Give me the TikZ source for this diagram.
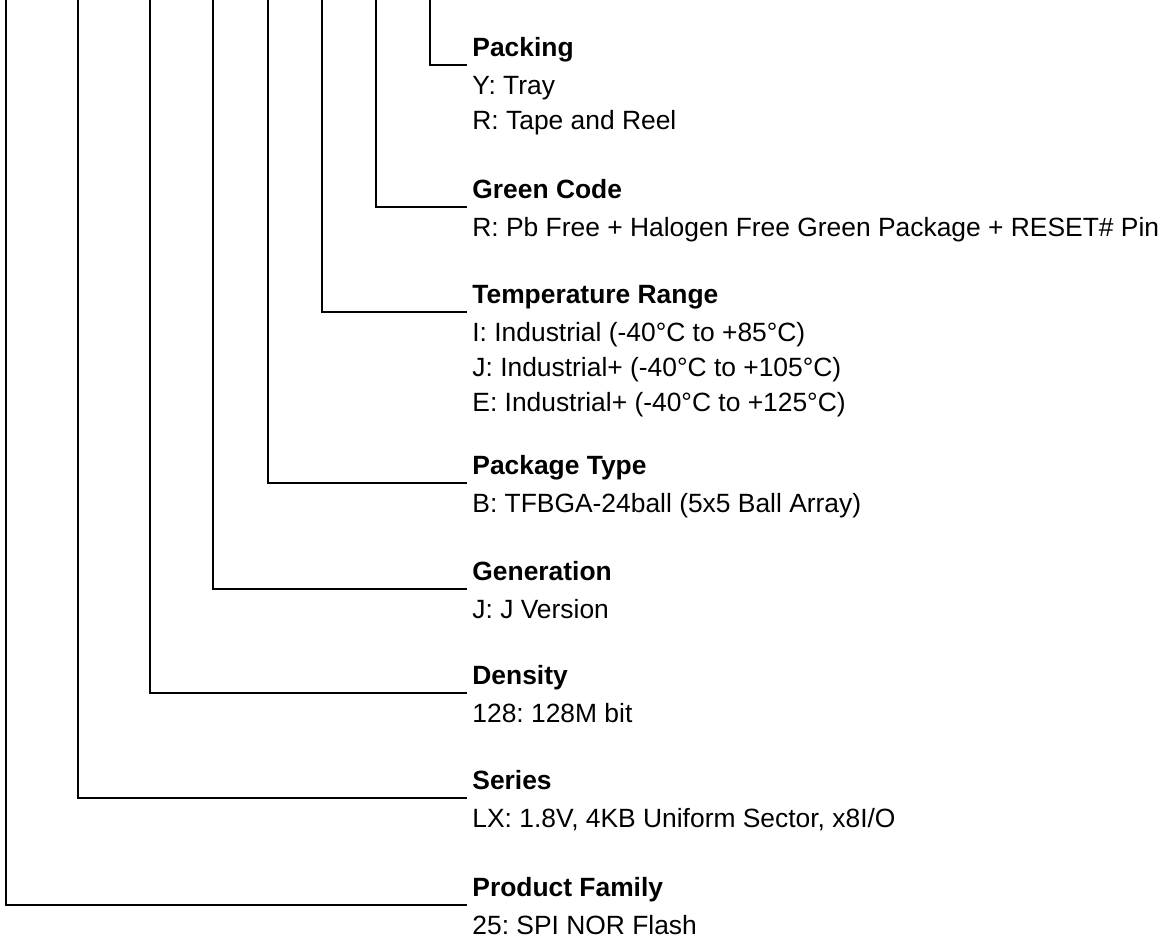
\documentclass[tikz,border=0pt]{standalone}
\usepackage{fontspec}
\setmainfont{Liberation Sans}
\usepackage{tikz}
\usetikzlibrary{positioning}
\frenchspacing
\newcommand{\codelines}[1]{\begin{tabular}[t]{@{}l@{}}#1\end{tabular}}

\begin{document}
\begin{tikzpicture}[x=0.5pt, y=-0.5pt,
  field/.style={anchor=south west, inner xsep=2.5pt, inner ysep=0pt, text depth=4pt,
                font=\fontsize{13.2}{17.5}\selectfont\bfseries},
  codes/.style={anchor=base west, inner sep=0pt,
                font=\fontsize{13.2}{17.5}\selectfont},
  lead/.style={line width=1pt}
]
  \useasboundingbox (0,0) rectangle (1166,939);

  % upper ends of the leads
  \coordinate (tfam)  at (6,0);
  \coordinate (tser)  at (78,0);
  \coordinate (tden)  at (150,0);
  \coordinate (tgen)  at (213,0);
  \coordinate (tpkg)  at (268,0);
  \coordinate (ttemp) at (322,0);
  \coordinate (tgrn)  at (376,0);
  \coordinate (tpack) at (430,0);

  \node[field] (pack) at (467,65)  {Packing};
  \node[codes] (packc) at ([xshift=2.5pt,yshift=-19pt]pack.base west) {\codelines{Y: Tray\\R: Tape and Reel}};

  \node[field] (grn) at (467,207)  {Green Code};
  \node[codes] (grnc) at ([xshift=2.5pt,yshift=-19pt]grn.base west) {\codelines{R: Pb Free + Halogen Free Green Package + RESET\# Pin}};

  \node[field] (temp) at (467,312) {Temperature Range};
  \node[codes] (tempc) at ([xshift=2.5pt,yshift=-19pt]temp.base west)
    {\codelines{I: Industrial (-40°C to +85°C)\\J: Industrial+ (-40°C to +105°C)\\E: Industrial+ (-40°C to +125°C)}};

  \node[field] (pkg) at (467,483)  {Package Type};
  \node[codes] (pkgc) at ([xshift=2.5pt,yshift=-19pt]pkg.base west) {\codelines{B: TFBGA-24ball (5x5 Ball Array)}};

  \node[field] (gen) at (467,589)  {Generation};
  \node[codes] (genc) at ([xshift=2.5pt,yshift=-19pt]gen.base west) {\codelines{J: J Version}};

  \node[field] (den) at (467,693)  {Density};
  \node[codes] (denc) at ([xshift=2.5pt,yshift=-19pt]den.base west) {\codelines{128: 128M bit}};

  \node[field] (ser) at (467,798)  {Series};
  \node[codes] (serc) at ([xshift=2.5pt,yshift=-19pt]ser.base west) {\codelines{LX: 1.8V, 4KB Uniform Sector, x8I/O}};

  \node[field] (fam) at (467,905)  {Product Family};
  \node[codes] (famc) at ([xshift=2.5pt,yshift=-19pt]fam.base west) {\codelines{25: SPI NOR Flash}};

  \draw[lead] (tpack) |- (pack.south west);
  \draw[lead] (tgrn)  |- (grn.south west);
  \draw[lead] (ttemp) |- (temp.south west);
  \draw[lead] (tpkg)  |- (pkg.south west);
  \draw[lead] (tgen)  |- (gen.south west);
  \draw[lead] (tden)  |- (den.south west);
  \draw[lead] (tser)  |- (ser.south west);
  \draw[lead] (tfam)  |- (fam.south west);
\end{tikzpicture}
\end{document}
